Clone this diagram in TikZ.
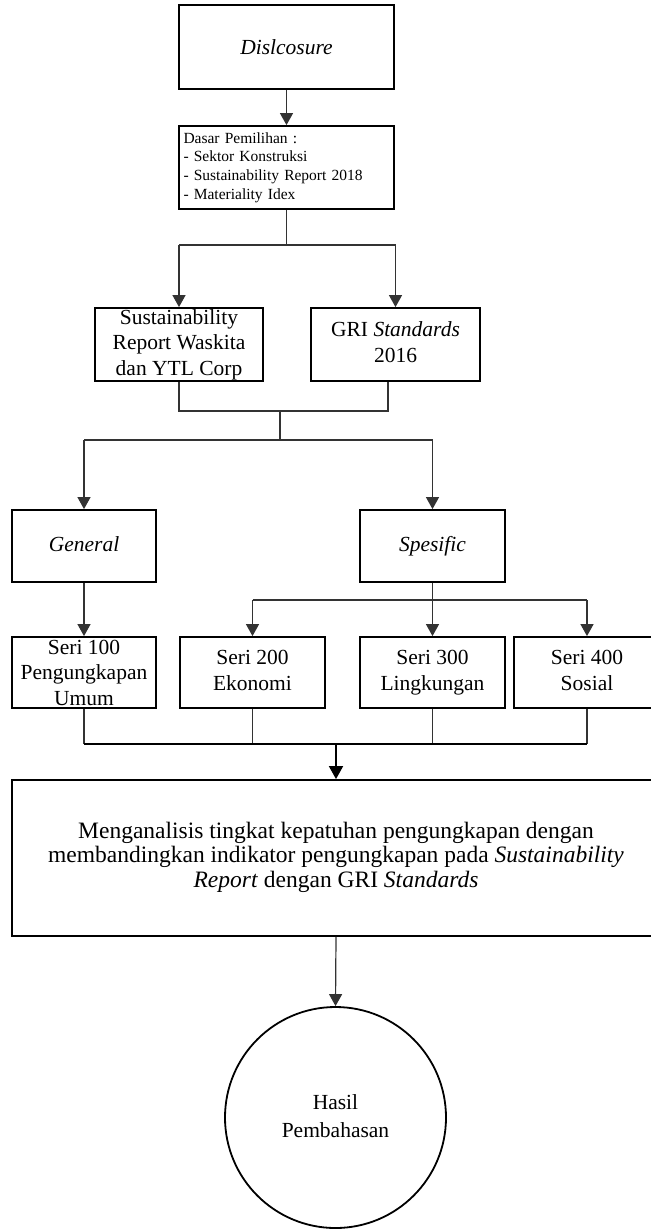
\documentclass[tikz,border=0pt]{standalone}
\usepackage{fontspec}
\setmainfont{Liberation Serif}
\usetikzlibrary{arrows.meta}
\begin{document}
\begin{tikzpicture}[x=1pt,y=-1pt,
  box/.style={draw=black,line width=1.8pt,inner sep=0pt,align=center,
    font=\fontsize{21.5}{25.5}\selectfont},
  conn/.style={line width=1.2pt,draw=black!80},
  thick conn/.style={line width=1.8pt,draw=black},
  arr/.style={conn,-{Triangle[width=13pt,length=12pt]}},
  thick arr/.style={thick conn,-{Triangle[width=14pt,length=13pt]}},
]
\useasboundingbox (0,0) rectangle (650,1230);

% boxes
\node[box,minimum width=215pt,minimum height=84pt] (dis) at (286.5,47) {\textit{Dislcosure}};
\node[box,minimum width=215pt,minimum height=83pt,align=left,text width=206pt,
  font=\fontsize{15.5}{18.7}\selectfont] (dasar) at (286.5,167.5)
  {\strut Dasar Pemilihan :\\- Sektor Konstruksi\\- Sustainability Report 2018\\- Materiality Idex\strut};
\node[box,minimum width=168pt,minimum height=73pt] (sust) at (179,344.5)
  {Sustainability\\Report Waskita\\dan YTL Corp};
\node[box,minimum width=169pt,minimum height=73pt] (gri) at (395.5,344.5)
  {\strut GRI \textit{Standards}\\2016\strut};
\node[box,minimum width=144pt,minimum height=72pt] (gen) at (84,546) {\strut\textit{General}};
\node[box,minimum width=145pt,minimum height=72pt] (spe) at (432.5,546) {\strut\textit{Spesific}};
\node[box,minimum width=144pt,minimum height=71pt] (s100) at (84,672.5)
  {Seri 100\\Pengungkapan\\Umum};
\node[box,minimum width=145pt,minimum height=71pt] (s200) at (252.5,672.5)
  {\strut Seri 200\\Ekonomi\strut};
\node[box,minimum width=145pt,minimum height=71pt] (s300) at (432.5,672.5)
  {\strut Seri 300\\Lingkungan\strut};
\node[box,minimum width=146pt,minimum height=71pt] (s400) at (587,672.5)
  {\strut Seri 400\\Sosial\strut};
\node[box,minimum width=648pt,minimum height=156pt,
  font=\fontsize{23.5}{24.5}\selectfont] (big) at (336,858)
  {\strut Menganalisis tingkat kepatuhan pengungkapan dengan\\
   membandingkan indikator pengungkapan pada \textit{Sustainability}\\
   \textit{Report} dengan GRI \textit{Standards}\strut};
\node[box,circle,minimum size=221pt,font=\fontsize{21.5}{28}\selectfont] (res) at (335.5,1117.5)
  {\strut Hasil\\Pembahasan\strut};

% connectors
\draw[arr] (dis.south) -- (dasar.north);
\coordinate (b1) at (286.5,245);
\coordinate (b1l) at (sust.north |- b1);
\coordinate (b1r) at (gri.north |- b1);
\draw[conn] (dasar.south) -- (b1);
\draw[conn] (b1l) -- (b1r);
\draw[arr] (b1l) -- (sust.north);
\draw[arr] (b1r) -- (gri.north);

\coordinate (gsb) at ([xshift=-7.5pt]gri.south);
\coordinate (j1) at (280,411);
\coordinate (j1l) at (sust.south |- j1);
\coordinate (j1r) at (gsb |- j1);
\coordinate (b2) at (280,440);
\coordinate (b2l) at (gen.north |- b2);
\coordinate (b2r) at (spe.north |- b2);
\draw[conn] (sust.south) -- (j1l) -- (j1r) -- (gsb);
\draw[conn] (j1) -- (b2);
\draw[conn] (b2l) -- (b2r);
\draw[arr] (b2l) -- (gen.north);
\draw[arr] (b2r) -- (spe.north);

\draw[arr] (gen.south) -- (s100.north);
\draw[arr] (spe.south) -- (s300.north);
\coordinate (b3) at (432.5,600);
\coordinate (b3l) at (s200.north |- b3);
\coordinate (b3r) at (s400.north |- b3);
\draw[conn] (b3l) -- (b3r);
\draw[arr] (b3l) -- (s200.north);
\draw[arr] (b3r) -- (s400.north);

\coordinate (m) at (big.north |- 0,744);
\coordinate (m1) at (s100.south |- m);
\coordinate (m2) at (s200.south |- m);
\coordinate (m3) at (s300.south |- m);
\coordinate (m4) at (s400.south |- m);
\draw[conn] (s100.south) -- (m1);
\draw[conn] (s200.south) -- (m2);
\draw[conn] (s300.south) -- (m3);
\draw[conn] (s400.south) -- (m4);
\draw[thick conn] (m1) -- (m4);
\draw[thick arr] (m) -- (big.north);
\draw[arr] (big.south) -- (res.north);
\end{tikzpicture}
\end{document}
